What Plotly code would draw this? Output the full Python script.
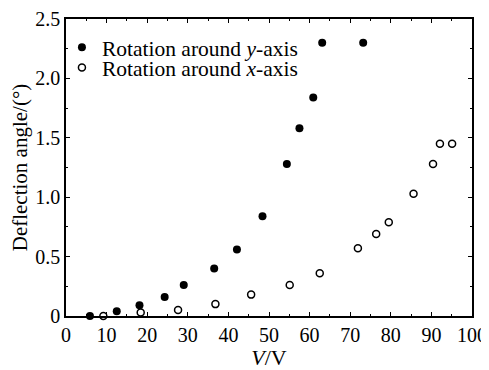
import plotly.graph_objects as go

# Rotation around y-axis (filled)
y_rot_v = [5.9, 12.5, 18.1, 24.3, 29.0, 36.5, 42.1, 48.4, 54.4, 57.5, 60.9, 63.1, 73.2]
y_rot_angle = [0.0, 0.04, 0.09, 0.16, 0.26, 0.40, 0.56, 0.84, 1.28, 1.58, 1.84, 2.30, 2.30]

# Rotation around x-axis (open)
x_rot_v = [9.2, 18.4, 27.6, 36.8, 45.6, 55.1, 62.5, 71.9, 76.4, 79.5, 85.6, 90.4, 92.1, 95.1]
x_rot_angle = [0.0, 0.03, 0.05, 0.10, 0.18, 0.26, 0.36, 0.57, 0.69, 0.79, 1.03, 1.28, 1.45, 1.45]

x_ticks = [0, 10, 20, 30, 40, 50, 60, 70, 80, 90, 100]
y_ticks = [0, 0.5, 1.0, 1.5, 2.0, 2.5]
y_tick_labels = ["0", "0.5", "1.0", "1.5", "2.0", "2.5"]

FONT = "Liberation Serif, Times New Roman, serif"

fig = go.Figure()
fig.add_trace(go.Scatter(
    x=y_rot_v, y=y_rot_angle, mode="markers",
    name="Rotation around <i>y</i>-axis",
    marker=dict(symbol="circle", size=8, color="black"),
    cliponaxis=False, legend="legend",
))
fig.add_trace(go.Scatter(
    x=x_rot_v, y=x_rot_angle, mode="markers",
    name="Rotation around <i>x</i>-axis",
    marker=dict(symbol="circle-open", size=7, color="black", line=dict(width=1.5)),
    cliponaxis=False, legend="legend2",
))

axis_common = dict(
    showline=True, linecolor="black", linewidth=1.5, mirror="ticks",
    ticks="inside", ticklen=4, tickwidth=1, tickcolor="black",
    showgrid=False, zeroline=False,
    tickfont=dict(family=FONT, size=20, color="black"),
    ticklabeloverflow="allow",
)

fig.update_xaxes(
    range=[0, 100], tickvals=x_ticks,
    minor=dict(ticks="inside", ticklen=2, dtick=5, tickcolor="black"),
    title=dict(text="<i>V</i>/V", font=dict(family=FONT, size=22, color="black"), standoff=8),
    **axis_common,
)
fig.update_yaxes(
    range=[0, 2.5], tickvals=y_ticks, ticktext=y_tick_labels,
    minor=dict(ticks="inside", ticklen=2, dtick=0.25, tickcolor="black"),
    title=dict(text="Deflection angle/(°)", font=dict(family=FONT, size=21, color="black"), standoff=8),
    **axis_common,
)

legend_common = dict(
    xanchor="left", yanchor="middle",
    bgcolor="rgba(0,0,0,0)", borderwidth=0,
    font=dict(family=FONT, size=21.5, color="black"),
    itemwidth=30, tracegroupgap=0,
)

fig.update_layout(
    width=481, height=362,
    margin=dict(l=58, r=17, t=11, b=54, autoexpand=False),
    paper_bgcolor="white", plot_bgcolor="white",
    showlegend=True,
    legend=dict(x=-0.01, y=0.905, **legend_common),
    legend2=dict(x=-0.01, y=0.837, **legend_common),
)

fig.write_html("out.html")
